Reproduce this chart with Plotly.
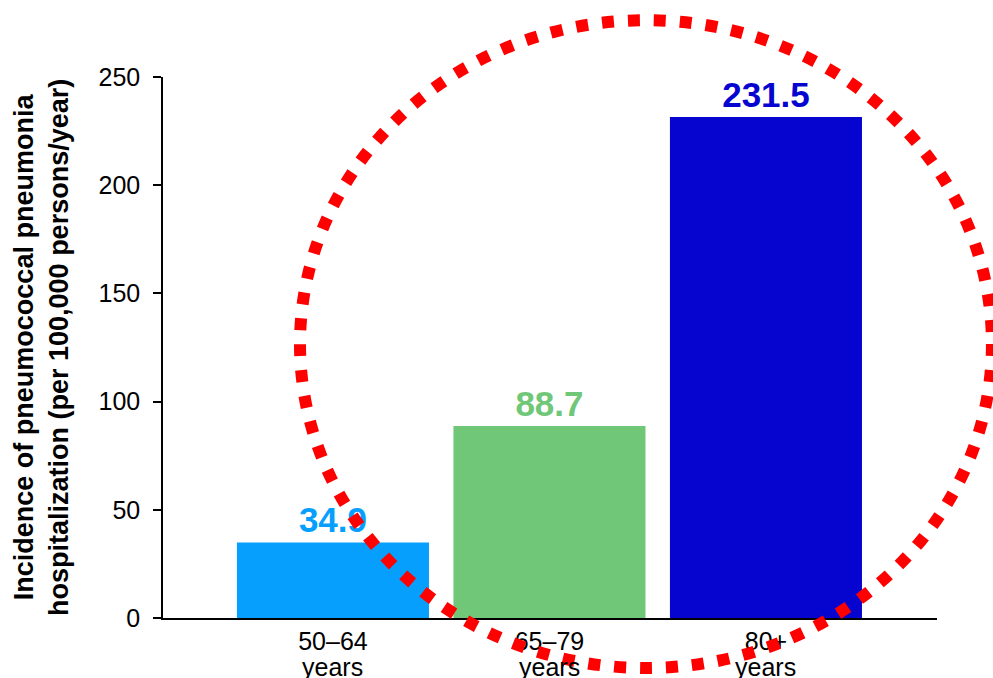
import plotly.graph_objects as go

age_groups = ["50–64", "65–79", "80+"]
unit_label = "years"
values = [34.9, 88.7, 231.5]
labels = ["34.9", "88.7", "231.5"]
colors = ["#069FFE", "#70C778", "#0505CF"]
y_ticks = [0, 50, 100, 150, 200, 250]
y_title = "Incidence of pneumococcal pneumonia<br>hospitalization (per 100,000 persons/year)"

FONT = "Liberation Sans, Arial, sans-serif"

fig = go.Figure()
fig.add_trace(go.Bar(
    x=age_groups, y=values, width=0.887,
    marker=dict(color=colors, line=dict(width=0)),
    text=labels, textposition="outside", cliponaxis=False,
    textfont=dict(family=FONT, size=35, color=colors, weight="bold"),
))

fig.update_layout(
    width=993, height=678,
    margin=dict(l=163, r=56, t=77, b=60),
    paper_bgcolor="white", plot_bgcolor="white",
    showlegend=False,
    font=dict(family=FONT, color="black"),
    xaxis=dict(
        range=[-0.785, 2.79], showline=True, linecolor="black", linewidth=1.5,
        ticks="", tickfont=dict(size=25, family=FONT, color="black"),
        showgrid=False, automargin=False, ticklabelstandoff=0,
    ),
    yaxis=dict(
        range=[0, 250], tickvals=y_ticks, showline=True, linecolor="black", linewidth=1.5,
        ticks="outside", ticklen=8, tickwidth=1.5, tickcolor="black",
        tickfont=dict(size=25, family=FONT, color="black"), ticklabelstandoff=8,
        showgrid=False, zeroline=False, automargin=False,
    ),
)

# y-axis title
fig.add_annotation(
    text=y_title, textangle=-90, xref="paper", yref="paper",
    x=-0.157, y=0.5, xanchor="center", yanchor="middle", showarrow=False,
    font=dict(size=27, family=FONT, color="black", weight="bold"),
)

# second line of the category labels
for g in age_groups:
    fig.add_annotation(
        text=unit_label, xref="x", yref="paper", x=g, y=-0.061,
        xanchor="center", yanchor="top", showarrow=False,
        font=dict(size=25, family=FONT, color="black"),
    )

fig.add_shape(
    type="circle", xref="paper", yref="paper",
    x0=0.177, x1=1.071, y0=-0.0924, y1=1.105,
    line=dict(color="#FF0000", width=12, dash="12px,14px"),
    layer="above",
)

fig.write_html("out.html")
